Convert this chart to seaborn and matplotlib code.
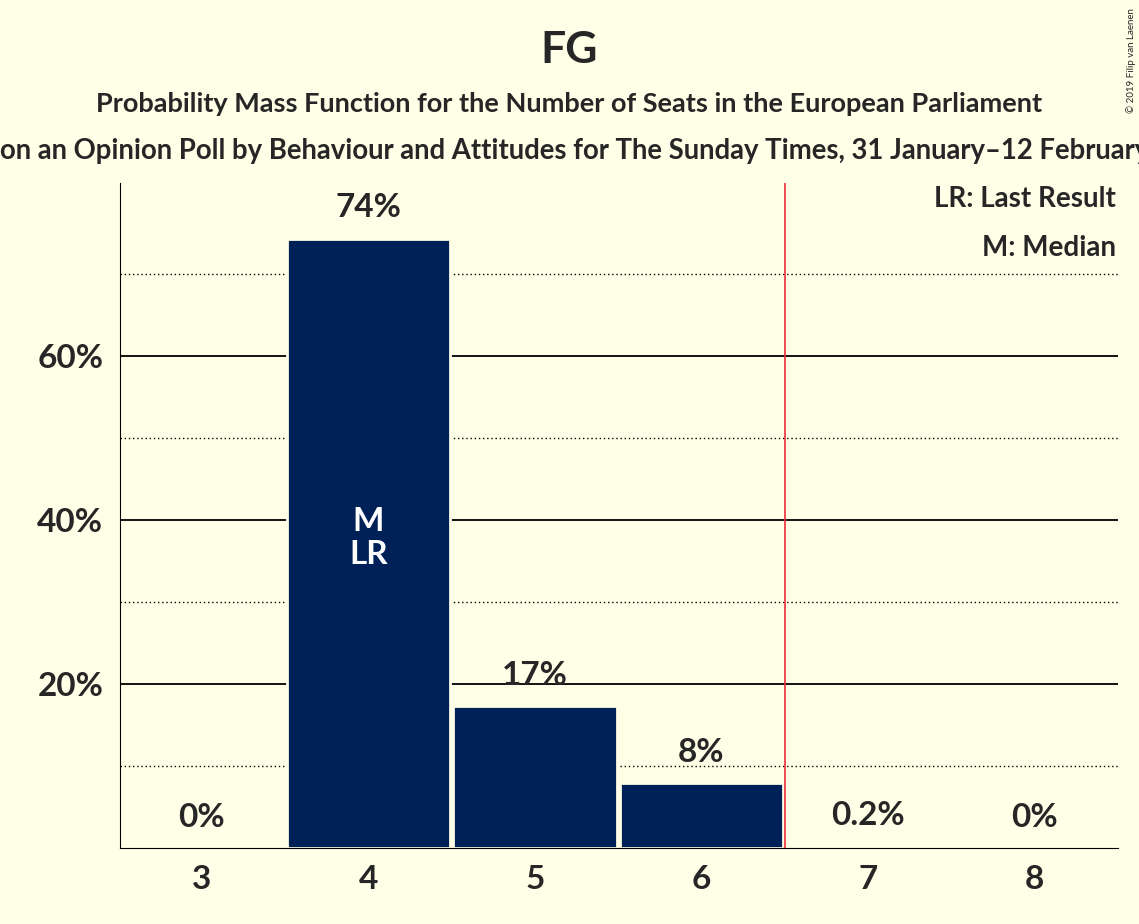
import pandas as pd
import matplotlib.pyplot as plt
import seaborn as sns

seats = [3, 4, 5, 6, 7, 8]
probs = [0.0, 74.3, 17.3, 7.9, 0.2, 0.0]
labels = ["0%", "74%", "17%", "8%", "0.2%", "0%"]
last_result = 4
median = 4
majority_line = 6.5

bg = "#FFFEE6"
bar_color = "#002157"

sns.set_style("white")
plt.rcParams['font.family'] = ['Lato', 'DejaVu Sans']
plt.rcParams['font.weight'] = 'bold'

df = pd.DataFrame({"Seats": seats, "Probability": probs})

fig = plt.figure(figsize=(11.39, 9.24), dpi=100, facecolor=bg)
ax = fig.add_axes([120 / 1139, 1 - 848 / 924, 998 / 1139, 665 / 924])
ax.set_facecolor(bg)

for v in [10, 30, 50, 70]:
    ax.axhline(v, color="black", linestyle=(0, (1, 2)), linewidth=1, zorder=0)
for v in [20, 40, 60]:
    ax.axhline(v, color="black", linewidth=1.3, zorder=0)

sns.barplot(data=df, x="Seats", y="Probability", color=bar_color, width=0.98,
            saturation=1, edgecolor=bg, linewidth=2, ax=ax, zorder=2)

for i, (p, lab) in enumerate(zip(probs, labels)):
    ax.text(i, p + 2, lab, ha="center", va="bottom", fontsize=24, fontweight="bold")

mi = seats.index(median)
ax.text(mi, 37.8, "M\nLR", ha="center", va="center", fontsize=24, fontweight="bold",
        color="white", linespacing=1.2)

ax.axvline(seats.index(7) - 0.5, color="#e8303a", linewidth=1.2, zorder=3)

ax.text(0.998, 0.995, "LR: Last Result", transform=ax.transAxes, ha="right", va="top", fontsize=20)
ax.text(0.998, 0.922, "M: Median", transform=ax.transAxes, ha="right", va="top", fontsize=20)

ax.set_xlim(-0.49, 5.5)
ax.set_ylim(0, 81.1)
ax.set_yticks([20, 40, 60])
ax.set_yticklabels(["20%", "40%", "60%"], fontsize=24, fontweight="bold")
ax.set_xticks(range(len(seats)))
ax.set_xticklabels([str(s) for s in seats], fontsize=24, fontweight="bold")
ax.tick_params(axis="both", length=0, pad=12)
ax.set_xlabel("")
ax.set_ylabel("")
for s in ["top", "right"]:
    ax.spines[s].set_visible(False)
ax.spines["left"].set_color("black")
ax.spines["bottom"].set_color("black")

fig.text(0.5, 1 - 50 / 924, "FG", ha="center", va="center", fontsize=32, fontweight="bold")
fig.text(0.5, 1 - 104 / 924, "Probability Mass Function for the Number of Seats in the European Parliament",
         ha="center", va="center", fontsize=19.5, fontweight="bold")
fig.text(0.5, 1 - 151 / 924,
         "Based on an Opinion Poll by Behaviour and Attitudes for The Sunday Times, 31 January\u201312 February 2019",
         ha="center", va="center", fontsize=19.8, fontweight="bold")
fig.text(1 - 8 / 1139, 1 - 8 / 924, "\u00a9 2019 Filip van Laenen", rotation=90,
         ha="center", va="top", fontsize=7, fontweight="normal")

fig.savefig("out.png", dpi=100, facecolor=bg)
